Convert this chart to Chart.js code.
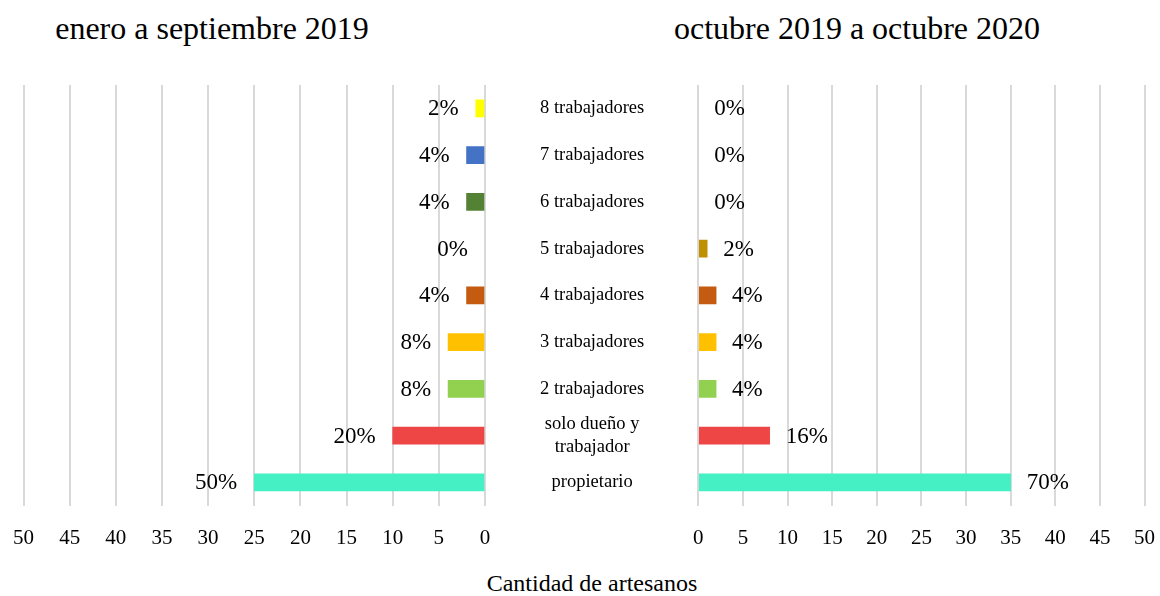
<!DOCTYPE html>
<html>
<head>
<meta charset="utf-8">
<script src="https://cdn.jsdelivr.net/npm/chart.js@4/dist/chart.umd.min.js"></script>
<style>
  body { margin: 0; background: #fff; width: 1160px; height: 596px; overflow: hidden; position: relative; font-family: "Liberation Serif", "Times New Roman", serif; color: #000; }
  .txt { position: absolute; white-space: nowrap; transform: translateX(-50%); }
  #leftBox { position: absolute; left: -7px; top: 0; width: 707px; height: 596px; }
  #rightBox { position: absolute; left: 673px; top: 0; width: 502px; height: 596px; }
</style>
</head>
<body>
<div class="txt" style="left:212px; top:10px; font-size:32px;">enero a septiembre 2019</div>
<div class="txt" style="left:857px; top:10px; font-size:32px;">octubre 2019 a octubre 2020</div>
<div class="txt" style="left:592px; top:570px; font-size:24px;">Cantidad de artesanos</div>
<div id="leftBox"><canvas id="leftChart"></canvas></div>
<div id="rightBox"><canvas id="rightChart"></canvas></div>
<script>
// Categories, top to bottom
let categories = ['8 trabajadores', '7 trabajadores', '6 trabajadores', '5 trabajadores',
  '4 trabajadores', '3 trabajadores', '2 trabajadores', ['solo dueño y', 'trabajador'], 'propietario'];

// Number of artisans per category
let before2019 = [1, 2, 2, 0, 2, 4, 4, 10, 25];
let after2019 = [0, 0, 0, 1, 2, 2, 2, 8, 35];

// One colour per category
let barColors = ['#FFFF00', '#4472C4', '#548235', '#BF9000', '#C55A11', '#FFC000', '#92D050', '#EE4545', '#45F0C4'];

let serif = '"Liberation Serif", "Times New Roman", serif';

// Empty categories draw nothing
function barColor(ctx) {
  return ctx.raw === 0 ? 'rgba(0,0,0,0)' : barColors[ctx.dataIndex];
}

// Draws the percentage next to the end of each bar
function percentLabels(side) {
  return {
    id: 'percentLabels',
    afterDatasetsDraw(chart) {
      let ctx = chart.ctx;
      let ds = chart.data.datasets[0];
      let total = ds.data.reduce((a, b) => a + b, 0);
      ctx.save();
      ctx.font = '23px ' + serif;
      ctx.fillStyle = '#000';
      ctx.textBaseline = 'middle';
      ctx.textAlign = side === 'left' ? 'right' : 'left';
      chart.getDatasetMeta(0).data.forEach((bar, i) => {
        let pct = Math.round(ds.data[i] / total * 100) + '%';
        let x = side === 'left' ? bar.x - 17 : bar.x + 16;
        ctx.fillText(pct, x, bar.y + 1);
      });
      ctx.restore();
    }
  };
}

function xScale(reverse) {
  return {
    min: 0,
    max: 50,
    reverse: reverse,
    ticks: { stepSize: 5, color: '#000', font: { family: serif, size: 21 }, padding: 20, maxRotation: 0 },
    grid: { color: '#d9d9d9', lineWidth: 2, drawTicks: false },
    border: { display: false }
  };
}

// Left chart: reversed axis, category names on its right side
new Chart(document.getElementById('leftChart'), {
  type: 'bar',
  data: {
    labels: categories,
    datasets: [{ data: before2019, backgroundColor: barColor, barThickness: 17 }]
  },
  options: {
    indexAxis: 'y',
    responsive: true,
    maintainAspectRatio: false,
    animation: false,
    layout: { padding: { left: 18, right: 2, top: 85, bottom: 25 } },
    plugins: { legend: { display: false }, tooltip: { enabled: false } },
    scales: {
      x: xScale(true),
      y: {
        position: 'right',
        grid: { display: false },
        border: { display: false },
        ticks: { color: '#000', font: { family: serif, size: 18.5 }, padding: 47, crossAlign: 'center', autoSkip: false },
        afterFit(axis) { axis.width = 213; }
      }
    }
  },
  plugins: [percentLabels('left')]
});

// Right chart
new Chart(document.getElementById('rightChart'), {
  type: 'bar',
  data: {
    labels: categories,
    datasets: [{ data: after2019, backgroundColor: barColor, barThickness: 17 }]
  },
  options: {
    indexAxis: 'y',
    responsive: true,
    maintainAspectRatio: false,
    animation: false,
    layout: { padding: { left: 8, right: 0, top: 85, bottom: 25 } },
    plugins: { legend: { display: false }, tooltip: { enabled: false } },
    scales: {
      x: xScale(false),
      y: { display: false }
    }
  },
  plugins: [percentLabels('right')]
});
</script>
</body>
</html>
